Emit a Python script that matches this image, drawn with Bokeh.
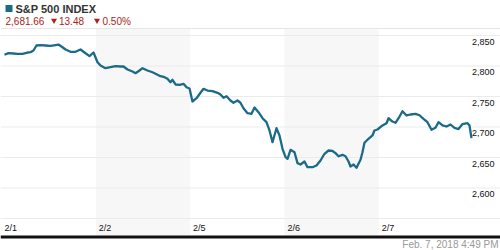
from bokeh.plotting import figure
from bokeh.models import Range1d, Span
from bokeh.core.properties import value
from bokeh.embed import file_html
from bokeh.resources import INLINE

# ---------------- data ----------------
days = ["2/1", "2/2", "2/5", "2/6", "2/7"]
shaded_days = [1, 3]

# trading-session position (day index + fraction of the session)
session_pos = [
    0.032, 0.074, 0.127, 0.170, 0.223, 0.276, 0.308, 0.339, 0.371, 0.414, 0.467,
    0.520, 0.573, 0.604, 0.636, 0.679, 0.732, 0.785, 0.838, 0.880, 0.933, 0.976,
    1.018, 1.050, 1.103, 1.156, 1.209, 1.262, 1.294, 1.336, 1.389, 1.421, 1.463,
    1.495, 1.548, 1.601, 1.644, 1.686, 1.718, 1.760, 1.792, 1.813, 1.845, 1.888,
    1.930, 1.962, 1.994,
    2.025, 2.068, 2.110, 2.142, 2.185, 2.238, 2.291, 2.322, 2.354, 2.386, 2.428,
    2.460, 2.503, 2.534, 2.566, 2.609, 2.651, 2.683, 2.725, 2.768, 2.810, 2.842,
    2.874, 2.916, 2.948, 2.980,
    3.012, 3.033, 3.065, 3.107, 3.139, 3.171, 3.213, 3.245, 3.298, 3.340, 3.383,
    3.425, 3.468, 3.510, 3.542, 3.574, 3.616, 3.648, 3.680, 3.701, 3.733, 3.765,
    3.807, 3.828, 3.849, 3.892, 3.934, 3.955, 3.987,
    4.040, 4.083, 4.104, 4.146, 4.178, 4.221, 4.252, 4.295, 4.337, 4.390, 4.433,
    4.475, 4.517, 4.560, 4.602, 4.634, 4.677, 4.719, 4.761, 4.804, 4.846, 4.889,
    4.942, 4.963, 4.984,
]
sp500 = [
    2818.4, 2821.0, 2820.5, 2820.0, 2820.0, 2822.1, 2822.6, 2825.4, 2833.6, 2834.1, 2833.6,
    2833.1, 2834.4, 2835.2, 2832.0, 2827.0, 2823.3, 2823.3, 2827.0, 2822.1, 2816.1, 2822.1,
    2806.2, 2800.8, 2796.4, 2798.0, 2799.7, 2799.2, 2799.2, 2794.3, 2791.0, 2788.2, 2792.6,
    2796.4, 2792.6, 2789.8, 2786.6, 2783.3, 2782.3, 2779.0, 2773.4, 2777.4, 2769.7, 2769.2,
    2770.8, 2765.2, 2763.1,
    2741.8, 2747.2, 2756.1, 2762.6, 2759.8, 2758.7, 2756.1, 2753.3, 2747.9, 2750.5, 2743.4,
    2739.7, 2743.4, 2739.7, 2730.8, 2722.6, 2721.6, 2732.0, 2724.3, 2714.4, 2707.9, 2694.3,
    2675.1, 2698.0, 2686.1, 2664.3,
    2650.5, 2647.9, 2662.6, 2658.7, 2640.7, 2638.5, 2643.4, 2634.1, 2634.1, 2636.9, 2645.1,
    2656.1, 2661.5, 2660.7, 2657.1, 2652.1, 2654.4, 2652.1, 2643.4, 2635.2, 2638.5, 2633.1,
    2646.2, 2658.7, 2674.1, 2680.7, 2686.1, 2694.3, 2695.9,
    2702.5, 2706.2, 2714.4, 2709.0, 2706.9, 2717.2, 2725.9, 2718.9, 2720.5, 2721.6, 2719.3,
    2713.4, 2707.9, 2695.4, 2698.7, 2707.9, 2702.5, 2700.8, 2704.1, 2698.4, 2696.7, 2704.9,
    2706.2, 2702.5, 2681.7,
]
grid_levels = [2550, 2600, 2650, 2700, 2750, 2800, 2850]
y_ticks = [2600, 2650, 2700, 2750, 2800, 2850]
title = "S&P 500 INDEX"
last_value = "2,681.66"
change = "13.48"
change_pct = "0.50%"
stamp = "Feb. 7, 2018 4:49 PM"

# ---------------- layout helpers (pixel <-> data) ----------------
W, H = 500, 250
PX_PER_DAY = 94.3
X0 = 1.0            # pixel of session 0
PX_PER_PT = 0.61
Y_REF_PX, Y_REF_VAL = 35.0, 2850.0


def px2x(px):
    return (px - X0) / PX_PER_DAY


def py2y(py):
    return Y_REF_VAL - (py - Y_REF_PX) / PX_PER_PT


FONT = value("Liberation Sans")
LINE_COLOR = "#1b6a87"
RED = "#a8231c"

p = figure(width=W, height=H, x_range=Range1d(px2x(0), px2x(W)),
           y_range=Range1d(py2y(H), py2y(0)), min_border=0,
           toolbar_location=None, output_backend="svg")
p.axis.visible = False
p.grid.visible = False
p.outline_line_color = None
p.background_fill_color = "white"
p.border_fill_color = "white"

# shaded alternate sessions
p.quad(left=[d for d in shaded_days], right=[d + 1 for d in shaded_days],
       top=py2y(28.5), bottom=py2y(235), fill_color="#f7f7f7", line_color=None,
       level="underlay")

# top rule
p.segment(x0=[px2x(0)], x1=[px2x(W)], y0=[py2y(28)], y1=[py2y(28)],
          line_color="#e6e6e6", line_width=1, level="underlay")

# gridlines (beneath the price line)
for g in grid_levels:
    p.add_layout(Span(location=g, dimension="width", line_color="#ebebeb",
                      line_width=1, level="underlay"))

# price line
p.line(session_pos, sp500, line_color=LINE_COLOR, line_width=2.3, line_join="round")

# axis rule
p.add_layout(Span(location=py2y(236.5), dimension="width", line_color="#111111", line_width=3))

# y tick labels (right, just below each gridline)
lab_off = 6 / PX_PER_PT
p.text(x=[px2x(494)] * len(y_ticks), y=[t - lab_off for t in y_ticks],
       text=[f"{t:,}" for t in y_ticks], text_align="right", text_baseline="middle",
       text_font=FONT, text_font_size="9px", text_color="#111111")

# x tick labels (start of each session)
p.text(x=[i + px2x(4) for i in range(len(days))], y=[py2y(227)] * len(days), text=days,
       text_align="left", text_baseline="middle", text_font=FONT,
       text_font_size="9px", text_color="#111111")

# header
p.scatter(x=[px2x(8.5)], y=[py2y(8)], marker="square", size=7,
          fill_color=LINE_COLOR, line_color=None)
p.text(x=[px2x(15)], y=[py2y(8.5)], text=[title], text_align="left", text_baseline="middle",
       text_font=FONT, text_font_size="11px", text_font_style="bold", text_color="#333333")
p.text(x=[px2x(5), px2x(58.5), px2x(102)], y=[py2y(20.5)] * 3,
       text=[last_value, change, change_pct], text_align="left", text_baseline="middle",
       text_font=FONT, text_font_size="10px", text_color=RED)
p.scatter(x=[px2x(53.5), px2x(96.5)], y=[py2y(20)] * 2, marker="inverted_triangle", size=6,
          fill_color=RED, line_color=None)

# footer timestamp
p.text(x=[px2x(498)], y=[py2y(243.5)], text=[stamp], text_align="right",
       text_baseline="middle", text_font=FONT, text_font_size="10px", text_color="#999999")

open("out.html", "w").write(file_html(p, INLINE))
